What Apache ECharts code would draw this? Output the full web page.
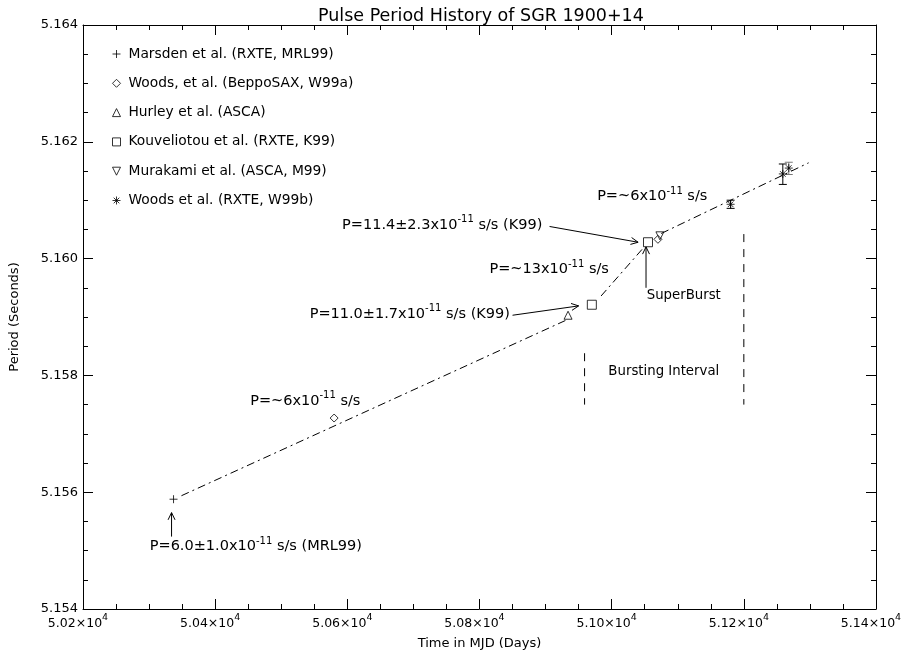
<!DOCTYPE html>
<html><head><meta charset="utf-8">
<script src="https://cdn.jsdelivr.net/npm/echarts@6/dist/echarts.min.js"></script>
<style>html,body{margin:0;padding:0;background:#fff}#c{width:909px;height:655px}</style>
</head><body><div id="c"></div>
<script>
// ---------------- data ----------------
const xTickValues = [50200, 50400, 50600, 50800, 51000, 51200, 51400];
const xTickLabels = ['5.02', '5.04', '5.06', '5.08', '5.10', '5.12', '5.14'];
const yTickValues = [5.154, 5.156, 5.158, 5.160, 5.162, 5.164];
const yTickLabels = ['5.154', '5.156', '5.158', '5.160', '5.162', '5.164'];

const marsdenX = [50337];            const marsdenY = [5.15588];
const woodsSaxX = [50580, 51070];    const woodsSaxY = [5.15727, 5.16033];
const hurleyX = [50934];             const hurleyY = [5.15903];
const kouvX = [50970, 51055];        const kouvY = [5.15921, 5.16028];
const murakamiX = [51073];           const murakamiY = [5.16039];
const woodsRxteX = [51180, 51259, 51268];
const woodsRxteY = [5.16093, 5.16145, 5.16155];
const woodsRxteLo = [5.16086, 5.16127, 5.16144];
const woodsRxteHi = [5.16100, 5.16162, 5.16165];

// fitted spin-down trend (null = gap)
const trendX = [50349, 50930, null, 50984, 51050, null, 51075, 51298];
const trendY = [5.15594, 5.15894, null, 5.15936, 5.16021, null, 5.16043, 5.16164];

// bursting interval markers
const burstLineX = [50959, 51200];
const burstLineTop = [5.15838, 5.16042];
const burstLineBottom = [5.1575, 5.1575];

const seriesNames = [
  'Marsden et al. (RXTE, MRL99)',
  'Woods, et al. (BeppoSAX, W99a)',
  'Hurley et al. (ASCA)',
  'Kouveliotou et al. (RXTE, K99)',
  'Murakami et al. (ASCA, M99)',
  'Woods et al. (RXTE, W99b)'
];

const annotationTexts = [
  ['P=6.0±1.0x10', '-11', ' s/s (MRL99)'],
  ['P=~6x10', '-11', ' s/s'],
  ['P=11.0±1.7x10', '-11', ' s/s (K99)'],
  ['P=~13x10', '-11', ' s/s'],
  ['P=11.4±2.3x10', '-11', ' s/s (K99)'],
  ['P=~6x10', '-11', ' s/s'],
  ['SuperBurst'],
  ['Bursting Interval']
];

// ---------------- layout (data-space anchors) ----------------
const annotationAnchors = [
  [50301, 5.15507], [50453, 5.15756], [50543, 5.15905], [50815, 5.15981],
  [50592, 5.16057], [50978, 5.16106], [51053, 5.15937], [50995, 5.15806]
];
const arrowSegments = [
  [[50334, 5.15524], [50334, 5.15565]],
  [[50850, 5.15903], [50950, 5.15919]],
  [[50906, 5.16055], [51040, 5.16028]],
  [[51052, 5.15950], [51052, 5.16020]]
];

const FONT = 'DejaVu Sans';
const BLACK = '#000';
const PLUS = 'path://M5,0L5,10M0,5L10,5';
const STAR = 'path://M5,0L5,10M0,5L10,5M1.5,1.5L8.5,8.5M1.5,8.5L8.5,1.5';
const INVTRI = 'path://M0,0L10,0L5,10Z';

function lookup(vals, labels, v) {
  for (let i = 0; i < vals.length; i++) if (Math.abs(vals[i] - v) < 1e-7 * Math.max(1, Math.abs(v))) return labels[i];
  return '';
}
function pairs(xs, ys) { return xs.map((x, i) => [x, ys[i]]); }

function splitSegments(xs, ys) {
  const segs = []; let cur = [];
  xs.forEach((x, i) => {
    if (x === null) { if (cur.length) segs.push(cur); cur = []; }
    else cur.push([x, ys[i]]);
  });
  if (cur.length) segs.push(cur);
  return segs;
}

const chart = echarts.init(document.getElementById('c'), null, {renderer: 'canvas'});

const baseX = {
  type: 'value', min: 50200, max: 51400, interval: 200, gridIndex: 0,
  axisLine: {show: true, lineStyle: {color: BLACK, width: 1}},
  axisTick: {show: true, inside: true, length: 10, lineStyle: {color: BLACK, width: 1}},
  minorTick: {show: true, splitNumber: 4, length: 5, lineStyle: {color: BLACK, width: 1}},
  splitLine: {show: false}
};
const baseY = {
  type: 'value', min: 5.154, max: 5.164, interval: 0.002, gridIndex: 0,
  axisLine: {show: true, lineStyle: {color: BLACK, width: 1}},
  axisTick: {show: true, inside: true, length: 10, lineStyle: {color: BLACK, width: 1}},
  minorTick: {show: true, splitNumber: 4, length: 5, lineStyle: {color: BLACK, width: 1}},
  splitLine: {show: false}
};

const hollow = {color: 'transparent', borderColor: BLACK, borderWidth: 1};

const series = [];
splitSegments(trendX, trendY).forEach(seg => series.push({
  type: 'line', data: seg, showSymbol: false, silent: true, z: 1,
  lineStyle: {color: BLACK, width: 1, type: [8, 4, 2, 4]}
}));
burstLineX.forEach((x, i) => series.push({
  type: 'line', data: [[x, burstLineTop[i]], [x, burstLineBottom[i]]], showSymbol: false, silent: true, z: 1,
  lineStyle: {color: BLACK, width: 1, type: [8, 7]}
}));
series.push({
  type: 'custom', silent: true, z: 3,
  data: woodsRxteX.map((x, i) => [x, woodsRxteY[i], woodsRxteLo[i], woodsRxteHi[i]]),
  renderItem: function (params, api) {
    const x = api.value(0);
    const lo = api.coord([x, api.value(2)]);
    const hi = api.coord([x, api.value(3)]);
    const c = params.dataIndex === 2 ? '#777' : BLACK;
    const w = 4;
    const st = {stroke: c, lineWidth: 1};
    return {type: 'group', children: [
      {type: 'line', shape: {x1: lo[0], y1: lo[1], x2: hi[0], y2: hi[1]}, style: st},
      {type: 'line', shape: {x1: lo[0] - w, y1: lo[1], x2: lo[0] + w, y2: lo[1]}, style: st},
      {type: 'line', shape: {x1: hi[0] - w, y1: hi[1], x2: hi[0] + w, y2: hi[1]}, style: st}
    ]};
  }
});
series.push(
  {name: seriesNames[0], type: 'scatter', data: pairs(marsdenX, marsdenY), symbol: PLUS, symbolSize: 8, itemStyle: hollow, z: 5},
  {name: seriesNames[1], type: 'scatter', data: pairs(woodsSaxX, woodsSaxY), symbol: 'diamond', symbolSize: 8, itemStyle: hollow, z: 5},
  {name: seriesNames[2], type: 'scatter', data: pairs(hurleyX, hurleyY), symbol: 'triangle', symbolSize: 8, itemStyle: hollow, z: 5},
  {name: seriesNames[3], type: 'scatter', data: pairs(kouvX, kouvY), symbol: 'rect', symbolSize: 9, itemStyle: hollow, z: 5},
  {name: seriesNames[4], type: 'scatter', data: pairs(murakamiX, murakamiY), symbol: INVTRI, symbolSize: 8, itemStyle: hollow, z: 5},
  {name: seriesNames[5], type: 'scatter', data: pairs(woodsRxteX, woodsRxteY), symbol: STAR, symbolSize: 8, itemStyle: hollow, z: 5}
);

chart.setOption({
  backgroundColor: '#fff',
  animation: false,
  textStyle: {fontFamily: FONT, color: BLACK},
  title: {
    text: 'Pulse Period History of SGR 1900+14', left: 313, top: 2,
    textStyle: {fontFamily: FONT, fontSize: 17.5, fontWeight: 'normal', color: BLACK}
  },
  grid: {left: 78, right: 33, top: 25, bottom: 41, containLabel: false},
  legend: {
    data: seriesNames, orient: 'vertical', left: 107, top: 41,
    itemWidth: 8, itemHeight: 8, itemGap: 13.3, selectedMode: false,
    itemStyle: {borderWidth: 1},
    textStyle: {fontFamily: FONT, fontSize: 13.8, color: BLACK, lineHeight: 16, padding: [0, 0, 0, 3]}
  },
  xAxis: [
    Object.assign({}, baseX, {
      position: 'bottom',
      name: 'Time in MJD (Days)', nameLocation: 'middle', nameGap: 28,
      nameTextStyle: {fontFamily: FONT, fontSize: 13, color: BLACK},
      axisLabel: {
        show: true, margin: 4, showMinLabel: true, showMaxLabel: true,
        padding: [0, 10, 0, 0],
        formatter: v => '{b|' + lookup(xTickValues, xTickLabels, v) + '×10}{s|4}',
        rich: {
          b: {fontFamily: FONT, fontSize: 12.5, color: BLACK},
          s: {fontFamily: FONT, fontSize: 9.5, color: BLACK, padding: [0, 0, 11, 0]}
        }
      }
    }),
    Object.assign({}, baseX, {position: 'top', axisLabel: {show: false}})
  ],
  yAxis: [
    Object.assign({}, baseY, {
      position: 'left',
      name: 'Period (Seconds)', nameLocation: 'middle', nameGap: 62, nameRotate: 90,
      nameTextStyle: {fontFamily: FONT, fontSize: 13, color: BLACK},
      axisLabel: {
        show: true, margin: 5, showMinLabel: true, showMaxLabel: true,
        fontFamily: FONT, fontSize: 13, color: BLACK,
        formatter: v => lookup(yTickValues, yTickLabels, v)
      }
    }),
    Object.assign({}, baseY, {position: 'right', axisLabel: {show: false}})
  ],
  series: series
});

// ---------------- annotations placed through the axes ----------------
const toPx = p => chart.convertToPixel({xAxisIndex: 0, yAxisIndex: 0}, p);
const graphics = [];
const richStyles = {
  n: {fontFamily: FONT, fontSize: 14.5, fill: BLACK},
  m: {fontFamily: FONT, fontSize: 13.3, fill: BLACK},
  s: {fontFamily: FONT, fontSize: 10, fill: BLACK, padding: [0, 0, 11, 0]}
};
annotationTexts.forEach((parts, i) => {
  const p = toPx(annotationAnchors[i]);
  let txt;
  if (parts.length === 3) txt = '{n|' + parts[0] + '}{s|' + parts[1] + '}{n|' + parts[2] + '}';
  else txt = '{m|' + parts[0] + '}';
  graphics.push({
    type: 'text', x: p[0], y: p[1], z: 10, silent: true,
    style: {text: txt, rich: richStyles, align: 'left', verticalAlign: 'middle', fill: BLACK}
  });
});
arrowSegments.forEach(seg => {
  const a = toPx(seg[0]), b = toPx(seg[1]);
  const ang = Math.atan2(b[1] - a[1], b[0] - a[0]);
  const L = 8, spread = 0.45;
  const h1 = [b[0] - L * Math.cos(ang - spread), b[1] - L * Math.sin(ang - spread)];
  const h2 = [b[0] - L * Math.cos(ang + spread), b[1] - L * Math.sin(ang + spread)];
  graphics.push({type: 'line', silent: true, z: 10, shape: {x1: a[0], y1: a[1], x2: b[0], y2: b[1]}, style: {stroke: BLACK, lineWidth: 1}});
  graphics.push({type: 'polyline', silent: true, z: 10, shape: {points: [h1, b, h2]}, style: {stroke: BLACK, lineWidth: 1, fill: null}});
});
chart.setOption({graphic: graphics});
</script>
</body></html>
